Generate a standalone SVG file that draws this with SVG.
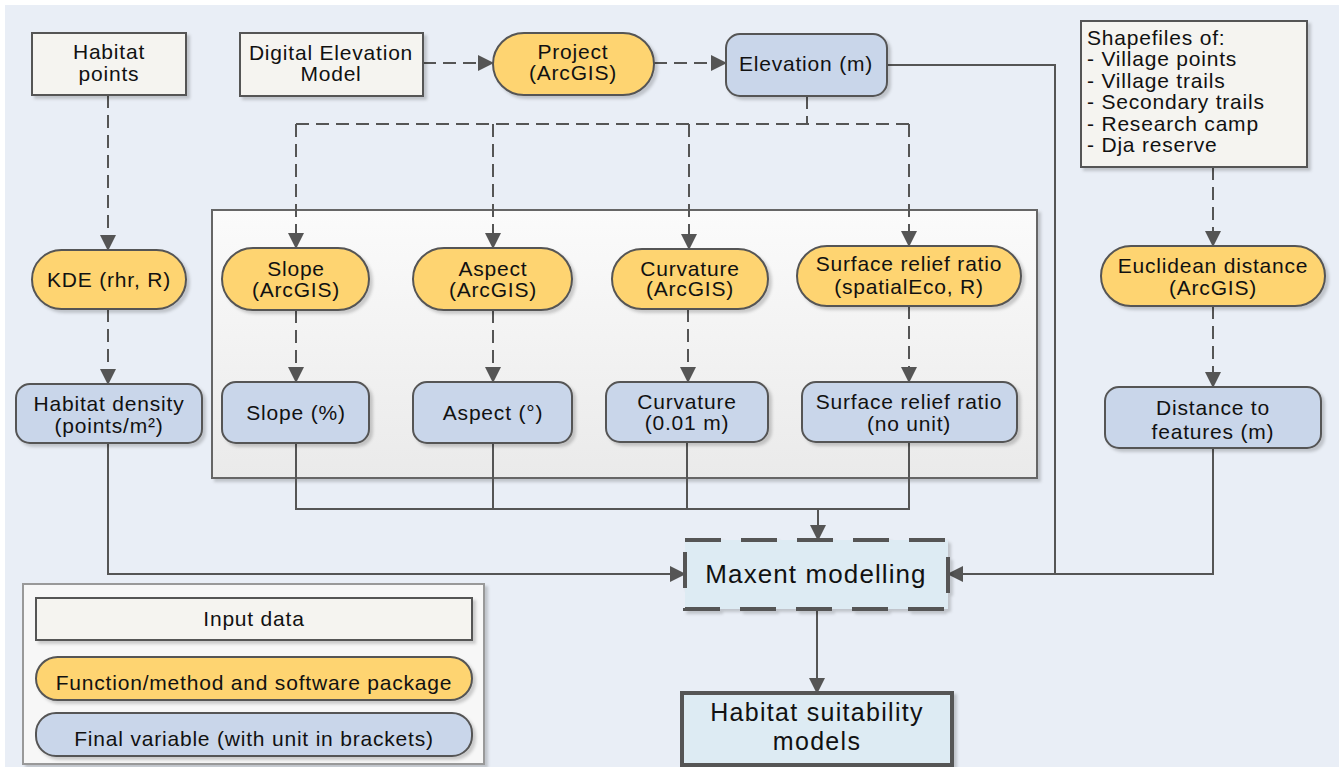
<svg xmlns="http://www.w3.org/2000/svg" width="1339" height="767" viewBox="0 0 1339 767">
<defs>
<linearGradient id="gPanel" x1="0" y1="0" x2="0" y2="1">
<stop offset="0" stop-color="#FBFBFB"/>
<stop offset="1" stop-color="#EAEAEA"/>
</linearGradient>
<filter id="sh" x="-10%" y="-10%" width="130%" height="140%">
<feDropShadow dx="3" dy="3" stdDeviation="1.5" flood-color="#000" flood-opacity="0.18"/>
</filter>
<marker id="ah" viewBox="0 0 16 16" refX="15" refY="8" markerWidth="16" markerHeight="16" markerUnits="userSpaceOnUse" orient="auto">
<path d="M0,0 L16,8 L0,16 z" fill="#555"/>
</marker>
<style>
.inp{fill:#F5F4F0;stroke:#555;stroke-width:2;filter:url(#sh)}
.fun{fill:#FED471;stroke:#555;stroke-width:2;filter:url(#sh)}
.var{fill:#C9D6EA;stroke:#555;stroke-width:2;filter:url(#sh)}
.fin{fill:#DDEBF3;stroke:#555;stroke-width:4;filter:url(#sh)}
.t{font-family:"Liberation Sans",Arial,sans-serif;font-size:21px;fill:#111;text-anchor:middle;letter-spacing:0.8px}
.tl{font-family:"Liberation Sans",Arial,sans-serif;font-size:21px;fill:#111;letter-spacing:0.8px}
.big{font-family:"Liberation Sans",Arial,sans-serif;font-size:26px;fill:#111;text-anchor:middle;letter-spacing:1.1px}
.big2{font-family:"Liberation Sans",Arial,sans-serif;font-size:25px;fill:#111;text-anchor:middle;letter-spacing:1.3px}
.c{fill:none;stroke:#555;stroke-width:2}
.d{stroke-dasharray:13 7}
.a{marker-end:url(#ah)}
</style>
</defs>
<rect x="5" y="5" width="1334" height="762" fill="#E9EEF6"/>

<g id="panel">
<rect x="212" y="210" width="825" height="268" fill="url(#gPanel)" stroke="#666" stroke-width="2" filter="url(#sh)"/>
</g>

<g id="legend">
<rect x="23" y="584" width="461" height="180" fill="#F7F7F7" stroke="#999" stroke-width="2" filter="url(#sh)"/>
<rect class="inp" x="36" y="598" width="436" height="42"/>
<text class="t" x="254" y="626">Input data</text>
<rect class="fun" x="36" y="657" width="436" height="43" rx="21.5"/>
<text class="t" x="254" y="690">Function/method and software package</text>
<rect class="var" x="36" y="713" width="436" height="43" rx="20"/>
<text class="t" x="254" y="746">Final variable (with unit in brackets)</text>
</g>

<g id="connectors">
<path class="c d a" d="M108,95 V250"/>
<path class="c d a" d="M108,309 V384"/>
<path class="c a" d="M108,443 V574 H685"/>
<path class="c d a" d="M423,63 H493"/>
<path class="c d a" d="M654,63 H726"/>
<path class="c d" d="M807,96 V124"/>
<path class="c d" d="M296,124 H909"/>
<path class="c d a" d="M296,124 V248"/>
<path class="c d a" d="M493,124 V248"/>
<path class="c d a" d="M689,124 V249"/>
<path class="c d a" d="M909,124 V246"/>
<path class="c d a" d="M296,310 V382"/>
<path class="c d a" d="M493,310 V382"/>
<path class="c d a" d="M688,309 V382"/>
<path class="c d a" d="M909,306 V382"/>
<path class="c" d="M296,443 V509 H909 V442"/>
<path class="c" d="M493,443 V509"/>
<path class="c" d="M687,442 V509"/>
<path class="c a" d="M818,509 V540"/>
<path class="c a" d="M887,65 H1055 V574 H948"/>
<path class="c" d="M1213,448 V574 H1055"/>
<path class="c d a" d="M1213,167 V246"/>
<path class="c d a" d="M1213,306 V387"/>
<path class="c a" d="M817,609 V693"/>
</g>

<g id="habitat-points">
<rect class="inp" x="32" y="33" width="154" height="62"/>
<text class="t" x="109" y="59">Habitat</text>
<text class="t" x="109" y="81">points</text>
</g>
<g id="dem">
<rect class="inp" x="240" y="33" width="183" height="63"/>
<text class="t" x="331" y="60">Digital Elevation</text>
<text class="t" x="331" y="81">Model</text>
</g>
<g id="project">
<rect class="fun" x="493" y="33" width="161" height="62" rx="31"/>
<text class="t" x="573" y="59">Project</text>
<text class="t" x="573" y="80">(ArcGIS)</text>
</g>
<g id="elevation">
<rect class="var" x="726" y="34" width="161" height="62" rx="14"/>
<text class="t" x="806" y="70.5">Elevation (m)</text>
</g>
<g id="shapefiles">
<rect class="inp" x="1081" y="21" width="226" height="146"/>
<text class="tl" x="1087" y="44.5">Shapefiles of:</text>
<text class="tl" x="1087" y="66">- Village points</text>
<text class="tl" x="1087" y="87.5">- Village trails</text>
<text class="tl" x="1087" y="109">- Secondary trails</text>
<text class="tl" x="1087" y="130.5">- Research camp</text>
<text class="tl" x="1087" y="152">- Dja reserve</text>
</g>
<g id="kde">
<rect class="fun" x="32" y="250" width="154" height="59" rx="29.5"/>
<text class="t" x="109" y="286.5">KDE (rhr, R)</text>
</g>
<g id="habitat-density">
<rect class="var" x="16" y="384" width="186" height="59" rx="14"/>
<text class="t" x="109" y="410.5">Habitat density</text>
<text class="t" x="109" y="432.5">(points/m²)</text>
</g>
<g id="slope-fn">
<rect class="fun" x="222" y="248" width="147" height="62" rx="31"/>
<text class="t" x="296" y="275.5">Slope</text>
<text class="t" x="296" y="296.5">(ArcGIS)</text>
</g>
<g id="aspect-fn">
<rect class="fun" x="413" y="248" width="159" height="62" rx="31"/>
<text class="t" x="493" y="275.5">Aspect</text>
<text class="t" x="493" y="296.5">(ArcGIS)</text>
</g>
<g id="curvature-fn">
<rect class="fun" x="612" y="249" width="156" height="60" rx="30"/>
<text class="t" x="690" y="275.5">Curvature</text>
<text class="t" x="690" y="296">(ArcGIS)</text>
</g>
<g id="srr-fn">
<rect class="fun" x="797" y="246" width="224" height="60" rx="30"/>
<text class="t" x="909" y="270.5">Surface relief ratio</text>
<text class="t" x="909" y="293.5">(spatialEco, R)</text>
</g>
<g id="slope-var">
<rect class="var" x="222" y="382" width="147" height="61" rx="14"/>
<text class="t" x="296" y="419.5">Slope (%)</text>
</g>
<g id="aspect-var">
<rect class="var" x="413" y="382" width="159" height="61" rx="14"/>
<text class="t" x="493" y="419.5">Aspect (°)</text>
</g>
<g id="curvature-var">
<rect class="var" x="606" y="382" width="162" height="60" rx="14"/>
<text class="t" x="687" y="408.5">Curvature</text>
<text class="t" x="687" y="430">(0.01 m)</text>
</g>
<g id="srr-var">
<rect class="var" x="802" y="382" width="215" height="60" rx="14"/>
<text class="t" x="909" y="408.5">Surface relief ratio</text>
<text class="t" x="909" y="430.5">(no unit)</text>
</g>
<g id="euclidean">
<rect class="fun" x="1101" y="246" width="224" height="60" rx="30"/>
<text class="t" x="1213" y="272.5">Euclidean distance</text>
<text class="t" x="1213" y="294.5">(ArcGIS)</text>
</g>
<g id="distance">
<rect class="var" x="1105" y="387" width="216" height="61" rx="14"/>
<text class="t" x="1213" y="414.5">Distance to</text>
<text class="t" x="1213" y="438.5">features (m)</text>
</g>
<g id="maxent">
<rect class="fin" x="685" y="540" width="263" height="69" stroke-dasharray="36 20"/>
<text class="big" x="816" y="583">Maxent modelling</text>
</g>
<g id="hsm">
<rect class="fin" x="682" y="693" width="270" height="72"/>
<text class="big2" x="817" y="721">Habitat suitability</text>
<text class="big2" x="817" y="750">models</text>
</g>
</svg>
